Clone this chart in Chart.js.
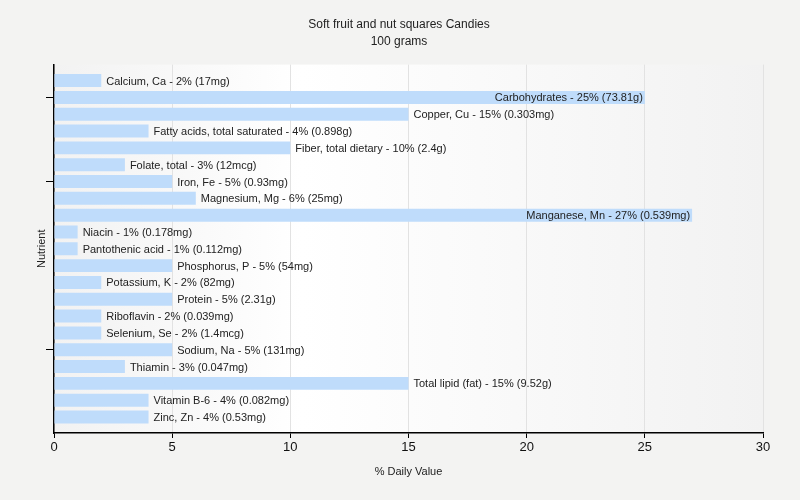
<!DOCTYPE html>
<html>
<head>
<meta charset="utf-8">
<script src="https://cdn.jsdelivr.net/npm/chart.js@4.4.1/dist/chart.umd.min.js"></script>
<style>
    html, body { margin: 0; padding: 0; background: #f3f3f2; }
    #wrap { width: 800px; height: 500px; }
</style>
</head>
<body>
<div id="wrap"><canvas id="nutrientChart" width="800" height="500"></canvas></div>
<script>
const nutrients = [
    'Calcium, Ca', 'Carbohydrates', 'Copper, Cu', 'Fatty acids, total saturated',
    'Fiber, total dietary', 'Folate, total', 'Iron, Fe', 'Magnesium, Mg',
    'Manganese, Mn', 'Niacin', 'Pantothenic acid', 'Phosphorus, P',
    'Potassium, K', 'Protein', 'Riboflavin', 'Selenium, Se', 'Sodium, Na',
    'Thiamin', 'Total lipid (fat)', 'Vitamin B-6', 'Zinc, Zn'
];
const dailyValue = [2, 25, 15, 4, 10, 3, 5, 6, 27, 1, 1, 5, 2, 5, 2, 2, 5, 3, 15, 4, 4];
const amounts = [
    '17mg', '73.81g', '0.303mg', '0.898g', '2.4g', '12mcg', '0.93mg', '25mg',
    '0.539mg', '0.178mg', '0.112mg', '54mg', '82mg', '2.31g', '0.039mg',
    '1.4mcg', '131mg', '0.047mg', '9.52g', '0.082mg', '0.53mg'
];
const xTicks = [0, 5, 10, 15, 20, 25, 30];
const yTickMarks = [1, 6, 16]; // rows that get a tick mark on the left

const FONT = 'Liberation Sans, Arial, sans-serif';

// gray -> white -> gray background inside the plot area
const plotBackground = {
    id: 'plotBackground',
    beforeDraw(chart) {
        const { ctx, chartArea: a } = chart;
        const g = ctx.createLinearGradient(a.left, 0, a.right, 0);
        g.addColorStop(0, '#f2f2f2');
        g.addColorStop(0.35, '#ffffff');
        g.addColorStop(1, '#f2f2f2');
        ctx.save();
        ctx.fillStyle = g;
        ctx.fillRect(a.left, a.top, a.right - a.left, a.bottom - a.top);
        ctx.restore();
    }
};

// label after each bar, or inside it when it would run past the plot
const barLabels = {
    id: 'barLabels',
    afterDatasetsDraw(chart) {
        const { ctx, chartArea } = chart;
        const meta = chart.getDatasetMeta(0);
        ctx.save();
        ctx.font = '11px ' + FONT;
        ctx.fillStyle = '#222';
        ctx.textBaseline = 'middle';
        meta.data.forEach((bar, i) => {
            const text = `${nutrients[i]} - ${dailyValue[i]}% (${amounts[i]})`;
            const w = ctx.measureText(text).width;
            if (bar.x + 5 + w > chartArea.right) {
                ctx.textAlign = 'right';
                ctx.fillText(text, bar.x - 2, bar.y + 1);
            } else {
                ctx.textAlign = 'left';
                ctx.fillText(text, bar.x + 5, bar.y + 1);
            }
        });
        ctx.restore();
    }
};

new Chart(document.getElementById('nutrientChart'), {
    type: 'bar',
    data: {
        datasets: [{
            data: dailyValue.map((v, i) => ({ x: v, y: i })),
            backgroundColor: '#bfdcfb',
            borderWidth: 0,
            barPercentage: 0.77,
            categoryPercentage: 1.0
        }]
    },
    options: {
        indexAxis: 'y',
        responsive: false,
        animation: false,
        layout: { padding: { left: 35, right: 37, top: 0, bottom: 21 } },
        scales: {
            x: {
                type: 'linear',
                min: 0,
                max: 30,
                afterBuildTicks: scale => { scale.ticks = xTicks.map(v => ({ value: v })); },
                grid: {
                    color: '#e2e2e2',
                    tickColor: '#000',
                    tickLength: 5,
                    drawTicks: true
                },
                border: { color: '#000', width: 1.5 },
                ticks: { color: '#111', font: { family: FONT, size: 13 }, padding: 2 },
                title: {
                    display: true,
                    text: '% Daily Value',
                    color: '#222',
                    font: { family: FONT, size: 11 },
                    padding: { top: 0, bottom: 0 }
                },
                afterFit: scale => { scale.height = 46; }
            },
            y: {
                type: 'linear',
                offset: false,
                reverse: true,
                min: -0.95,
                max: nutrients.length - 1 + 0.95,
                afterBuildTicks: scale => { scale.ticks = yTickMarks.map(v => ({ value: v })); },
                grid: {
                    offset: false,
                    drawOnChartArea: false,
                    tickLength: 8,
                    tickColor: '#000'
                },
                border: { color: '#000', width: 1.5 },
                ticks: { display: false },
                title: {
                    display: true,
                    text: 'Nutrient',
                    color: '#222',
                    font: { family: FONT, size: 11 },
                    padding: { top: 0, bottom: 0 }
                },
                afterFit: scale => { scale.width = 19; }
            }
        },
        plugins: {
            legend: { display: false },
            tooltip: { enabled: false },
            title: {
                display: true,
                text: ['Soft fruit and nut squares Candies', '100 grams'],
                color: '#222',
                font: { family: FONT, size: 12, weight: 'normal', lineHeight: 1.4 },
                padding: { top: 16, bottom: 15 }
            }
        }
    },
    plugins: [plotBackground, barLabels]
});
</script>
</body>
</html>
